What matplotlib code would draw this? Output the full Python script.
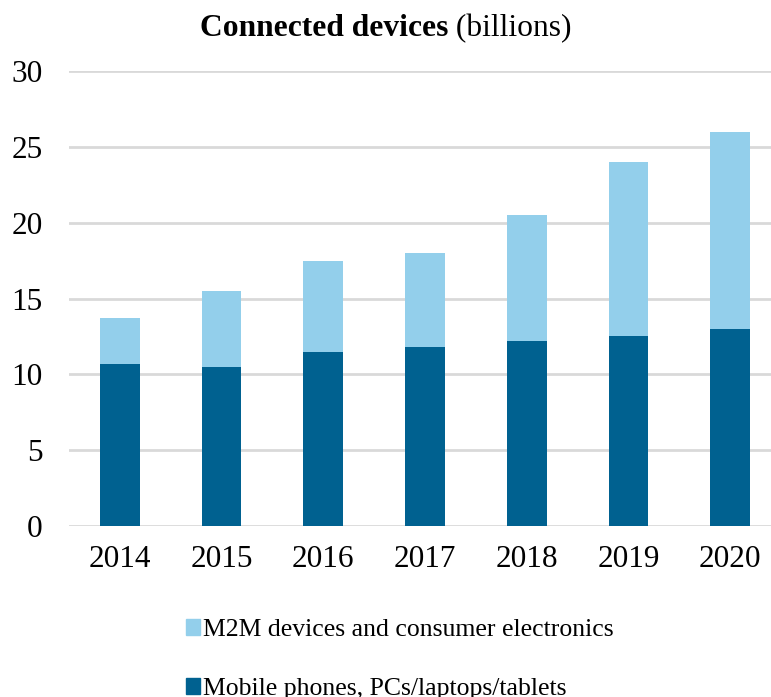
import numpy as np
import matplotlib
matplotlib.use("Agg")
import matplotlib.pyplot as plt
from matplotlib.patches import Patch

years = ["2014", "2015", "2016", "2017", "2018", "2019", "2020"]
mobile_pc = [10.7, 10.5, 11.5, 11.8, 12.2, 12.5, 13.0]
m2m_consumer = [3.0, 5.0, 6.0, 6.2, 8.3, 11.5, 13.0]

dark_blue = "#006190"
light_blue = "#93CFEB"
grid_grey = "#D9D9D9"

plt.rcParams["font.family"] = ["Liberation Serif", "DejaVu Serif"]

fig = plt.figure(figsize=(7.71, 6.97), dpi=100)
W, H = 771, 697
# axes box in pixels: left 69, right ~781 (runs off the canvas), y from 526 down to 71
ax = fig.add_axes([69 / W, (H - 526) / H, 712 / W, 455 / H])

x = np.arange(len(years))
ax.bar(x, mobile_pc, width=0.39, color=dark_blue, zorder=3,
       label="Mobile phones, PCs/laptops/tablets")
ax.bar(x, m2m_consumer, width=0.39, bottom=mobile_pc, color=light_blue, zorder=3,
       label="M2M devices and consumer electronics")

ax.set_xlim(-0.5, len(years) - 0.5)
ax.set_ylim(0, 30)
ax.set_yticks(range(0, 31, 5))
ax.set_xticks(x)
ax.set_xticklabels(years)
ax.yaxis.grid(True, color=grid_grey, linewidth=2, zorder=0)
for s in ax.spines.values():
    s.set_visible(False)
ax.tick_params(axis="both", length=0, labelsize=22.5)
ax.tick_params(axis="y", pad=19)
ax.tick_params(axis="x", pad=14)

# legend: light series on top, dark below
handles = [Patch(color=light_blue), Patch(color=dark_blue)]
labels = ["M2M devices and consumer electronics",
          "Mobile phones, PCs/laptops/tablets"]
fig.legend(handles, labels, loc="upper left", bbox_to_anchor=(186 / W, 1 - 619 / H),
           frameon=False, fontsize=18.5, handlelength=0.55, handleheight=0.55,
           handletextpad=0.12, labelspacing=1.45, borderaxespad=0, borderpad=0)

# title: bold part followed by regular "(billions)", centred as a whole
t1 = fig.text(0, 1 - 29 / H, "Connected devices", fontsize=22.7, fontweight="bold",
              va="center", ha="left")
t2 = fig.text(0, 1 - 29 / H, " (billions)", fontsize=22.7, va="center", ha="left")
fig.canvas.draw()
r = fig.canvas.get_renderer()
w1 = t1.get_window_extent(r).width
w2 = t2.get_window_extent(r).width
start = (W - (w1 + w2)) / 2
t1.set_x(start / W)
t2.set_x((start + w1) / W)

fig.savefig("out.png", dpi=100)
